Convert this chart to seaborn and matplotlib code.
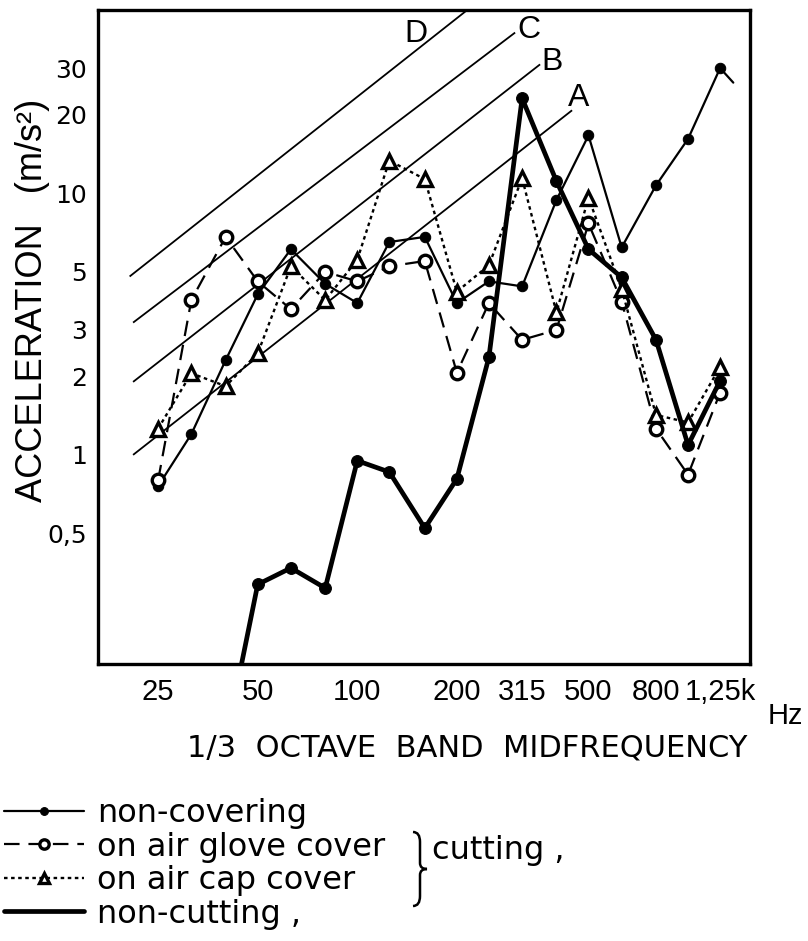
import numpy as np
import matplotlib
matplotlib.use("Agg")
import matplotlib.pyplot as plt
import seaborn as sns
from matplotlib.ticker import FixedLocator, FixedFormatter, NullFormatter
from matplotlib.path import Path
from matplotlib.patches import PathPatch
from matplotlib.lines import Line2D

# ---------------- data ----------------
bands = [25, 31.5, 40, 50, 63, 80, 100, 125, 160, 200, 250, 315, 400, 500, 630, 800, 1000, 1250]
non_covering = [0.76, 1.2, 2.3, 4.1, 6.1, 4.5, 3.8, 6.5, 6.8, 3.8, 4.6, 4.4, 9.4, 16.6, 6.2, 10.7, 16.1, 30.0]
glove_cover = [0.80, 3.9, 6.8, 4.6, 3.6, 5.0, 4.6, 5.25, 5.5, 2.06, 3.8, 2.75, 3.0, 7.65, 3.85, 1.26, 0.84, 1.73]
cap_cover = [1.26, 2.05, 1.83, 2.44, 5.25, 3.9, 5.56, 13.3, 11.3, 4.2, 5.3, 11.4, 3.5, 9.6, 4.3, 1.42, 1.33, 2.17]
non_cutting = [np.nan, np.nan, 0.08, 0.32, 0.37, 0.31, 0.95, 0.86, 0.525, 0.81, 2.36, 23.0, 11.1, 6.1, 4.76, 2.75, 1.09, 1.92]
non_covering_tail_f = [1250, 1370]
non_covering_tail_v = [30.0, 26.4]

# reference lines A-D (start/end frequency and acceleration)
ref_names = ["A", "B", "C", "D"]
ref_f = [[21, 446], [21, 357], [21, 300], [20.5, 215]]
ref_v = [[1.0, 20.7], [1.9, 31.0], [3.2, 41.0], [4.8, 50.0]]

tick_bands = [20, 25, 31.5, 40, 50, 63, 80, 100, 125, 160, 200, 250, 315, 400, 500, 630, 800, 1000, 1250]
xtick_text = {25: "25", 50: "50", 100: "100", 200: "200", 315: "315", 500: "500", 800: "800", 1250: "1,25k"}
ytick_major = [0.5, 1, 2, 3, 5, 10, 20, 30]
ytick_labels = ["0,5", "1", "2", "3", "5", "10", "20", "30"]
ytick_minor = [0.2, 0.3, 0.4, 0.6, 0.7, 0.8, 0.9, 4, 6, 7, 8, 9, 40]

legend_labels = ["non-covering", "on air glove cover", "on air cap cover", "non-cutting ,"]

# ---------------- figure ----------------
sns.set_theme(style="white")
plt.rcParams["font.family"] = ["DejaVu Sans"]
for k in ["text.color", "axes.labelcolor", "xtick.color", "ytick.color", "axes.edgecolor"]:
    plt.rcParams[k] = "black"
W, H = 808, 941
fig = plt.figure(figsize=(W / 100, H / 100), dpi=100)
ax = fig.add_axes([98 / W, 1 - 664 / H, 652 / W, 654 / H])
ax.set_xscale("log")
ax.set_yscale("log")

# reference lines
for f, v in zip(ref_f, ref_v):
    sns.lineplot(x=f, y=v, ax=ax, color="black", lw=1.3, solid_capstyle="butt")

# data series
sns.lineplot(x=non_covering_tail_f, y=non_covering_tail_v, ax=ax, color="black", lw=1.6)
l_nc = sns.lineplot(x=bands, y=non_covering, ax=ax, color="black", lw=1.6,
                    marker="o", markersize=7.5, markerfacecolor="black",
                    markeredgecolor="black").lines[-1]
l_gl = sns.lineplot(x=bands, y=glove_cover, ax=ax, color="black", lw=1.6,
                    marker="o", markersize=9, markerfacecolor="white",
                    markeredgecolor="black", markeredgewidth=2.4).lines[-1]
l_gl.set_dashes([7, 4])
l_cap = sns.lineplot(x=bands, y=cap_cover, ax=ax, color="black", lw=1.7,
                     marker="^", markersize=10, markerfacecolor="white",
                     markeredgecolor="black", markeredgewidth=2.4).lines[-1]
l_cap.set_dashes([1.5, 1.5])
l_cut = sns.lineplot(x=bands, y=non_cutting, ax=ax, color="black", lw=3.4,
                     marker="o", markersize=8.5, markerfacecolor="black",
                     markeredgecolor="black").lines[-1]

ax.set_xlim(16.45, 1539)
ax.set_ylim(0.159, 50)
ax.set_xlabel("")
ax.set_ylabel("")

# ticks
ax.xaxis.set_major_locator(FixedLocator(tick_bands))
ax.xaxis.set_major_formatter(FixedFormatter([xtick_text.get(b, "") for b in tick_bands]))
ax.xaxis.set_minor_locator(FixedLocator([]))
ax.yaxis.set_major_locator(FixedLocator(ytick_major))
ax.yaxis.set_major_formatter(FixedFormatter(ytick_labels))
ax.yaxis.set_minor_locator(FixedLocator(ytick_minor))
ax.yaxis.set_minor_formatter(NullFormatter())
ax.tick_params(axis="both", which="both", direction="in", color="black", width=1.6,
               labelcolor="black")
ax.tick_params(axis="y", which="major", length=9, pad=8)
ax.tick_params(axis="y", which="minor", length=7)
ax.tick_params(axis="x", which="major", length=7, pad=10)
for t in ax.yaxis.get_major_ticks():
    if t.get_loc() in (1, 10):
        t.tick1line.set_markersize(12)
for lbl in ax.get_yticklabels():
    lbl.set_fontfamily(["DejaVu Sans"])
    lbl.set_fontsize(18)
for lbl in ax.get_xticklabels():
    lbl.set_fontfamily(["Liberation Sans Narrow", "Liberation Sans"])
    lbl.set_fontsize(21)

for s in ax.spines.values():
    s.set_visible(True)
    s.set_color("black")
    s.set_linewidth(2.4)

# line letters
letter_pos = {"D": (416, 34), "C": (529, 30), "B": (552, 62), "A": (579, 98)}
for name in ref_names:
    px, py = letter_pos[name]
    fig.text(px / W, 1 - py / H, name, ha="center", va="center", fontsize=23,
             family=["Liberation Sans", "DejaVu Sans"], color="black")

# axis labels
fig.text(785 / W, 1 - 716 / H, "Hz", ha="center", va="center", fontsize=21,
         family=["Liberation Sans Narrow", "Liberation Sans"], color="black")
fig.text(467 / W, 1 - 748 / H, "1/3  OCTAVE  BAND  MIDFREQUENCY", ha="center", va="center",
         fontsize=22, family=["DejaVu Sans"], color="black")
fig.text(33 / W, 1 - 300 / H, "ACCELERATION   (m/s²)", ha="center", va="center",
         rotation=90, fontsize=26, family=["Liberation Sans Narrow", "Liberation Sans"],
         color="black")

# legend
h_cut = Line2D([], [], color="black", lw=3.4)
leg = fig.legend([l_nc, l_gl, l_cap, h_cut], legend_labels, loc="upper left",
                 bbox_to_anchor=(4 / W, 1 - 798 / H), frameon=False, fontsize=23,
                 handlelength=2.5, handletextpad=0.4, labelspacing=0.08,
                 borderpad=0, borderaxespad=0, markerscale=0.75)
for t in leg.get_texts():
    t.set_color("black")

# brace and "cutting ,"
bx0, bx1, bxm = 413, 427, 420
by0, by1 = 832, 906
bym = (by0 + by1) / 2
pts = [(bx0, by0), (bxm, by0), (bxm, by0 + 10), (bxm, bym - 6), (bxm, bym), (bx1, bym),
       (bxm, bym), (bxm, bym + 6), (bxm, by1 - 10), (bxm, by1), (bx0, by1)]
codes = [Path.MOVETO, Path.CURVE3, Path.CURVE3, Path.LINETO, Path.CURVE3, Path.CURVE3,
         Path.CURVE3, Path.CURVE3, Path.LINETO, Path.CURVE3, Path.CURVE3]
verts = [(x / W, 1 - y / H) for x, y in pts]
fig.patches.append(PathPatch(Path(verts, codes), transform=fig.transFigure,
                             fill=False, lw=1.8, edgecolor="black"))
fig.text(432 / W, 1 - 850 / H, "cutting ,", ha="left", va="center", fontsize=23,
         family=["DejaVu Sans"], color="black")

fig.savefig("out.png", dpi=100, facecolor="white")
